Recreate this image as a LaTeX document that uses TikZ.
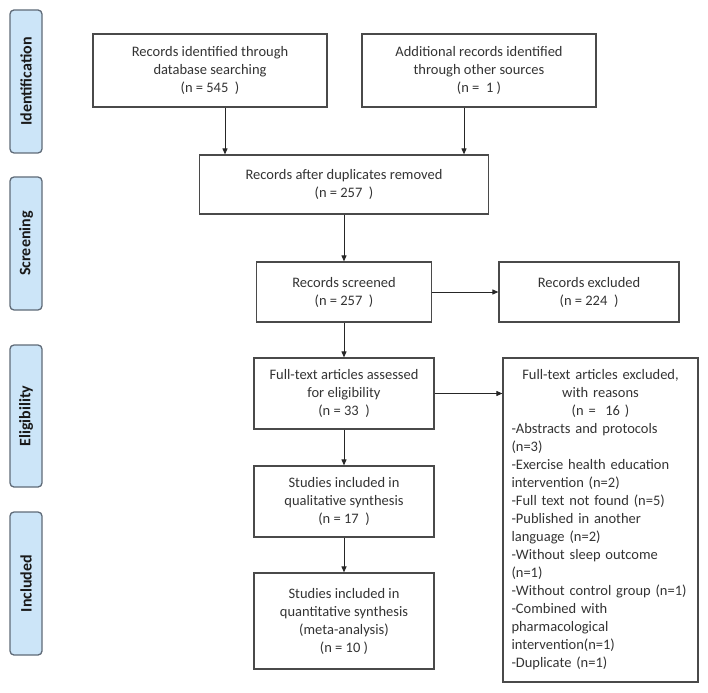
\documentclass[tikz,border=0pt]{standalone}
\usepackage{fontspec}
\setmainfont{Carlito}
\usetikzlibrary{arrows.meta,calc}
\definecolor{txt}{HTML}{333333}
\definecolor{lblfill}{HTML}{CCE5F8}
\definecolor{lbldraw}{HTML}{5F6B78}
\definecolor{boxdraw}{HTML}{4A4A4A}
\begin{document}
\begin{tikzpicture}[x=1pt,y=-1pt,
  phase/.style={draw=lbldraw,fill=lblfill,rounded corners=4pt,line width=1.3pt,
    minimum height=32pt,rotate=90,font=\fontsize{16}{19}\selectfont\bfseries,
    text=black!90,inner sep=0pt},
  box/.style={draw=boxdraw,line width=1.2pt,align=center,
    font=\fontsize{14.5}{18}\selectfont,text=txt,inner sep=0pt},
  arr/.style={-{Triangle[length=6pt,width=5pt]},line width=1pt,draw=black!85}]
\useasboundingbox (0,0) rectangle (708,692);

% phase labels
\node[phase,minimum width=143pt] (pid) at (26,81.5) {Identification};
\node[phase,minimum width=133pt] (psc) at (26,243.5) {Screening};
\node[phase,minimum width=142pt] (pel) at (26,416) {Eligibility};
\node[phase,minimum width=143pt] (pin) at (26,583.5) {Included};

% boxes
\node[box,minimum width=234pt,minimum height=73pt] (b1) at (210,70.5)
  {Records identified through\\database searching\\(n = 545~~)};
\node[box,minimum width=234pt,minimum height=73pt] (b2) at (479,70.5)
  {Additional records identified\\through other sources\\(n =~~1 )};
\node[box,minimum width=289pt,minimum height=59pt] (b3) at (344,184.5)
  {Records after duplicates removed\\(n = 257~~)};
\node[box,minimum width=175pt,minimum height=60pt] (b4) at (344,292)
  {Records screened\\(n = 257~~)};
\node[box,minimum width=180pt,minimum height=60pt] (b5) at (589,292)
  {Records excluded\\(n = 224~~)};
\node[box,minimum width=180pt,minimum height=71pt] (b6) at (344,393.5)
  {Full-text articles assessed\\for eligibility\\(n = 33~~)};
\node[box,minimum width=180pt,minimum height=71pt] (b7) at (344,501.5)
  {Studies included in\\qualitative synthesis\\(n = 17~~)};
\node[box,minimum width=180pt,minimum height=96pt] (b8) at (344,621)
  {Studies included in\\quantitative synthesis\\(meta-analysis)\\(n = 10 )};
\node[box,text width=178pt,inner xsep=8.5pt,minimum height=324pt,align=left] (b9) at (600.5,520)
  {\centering Full-text articles excluded,\\with reasons\\(n =~~16 )\par
   \raggedright -Abstracts and protocols\\(n=3)\\-Exercise health education\\intervention (n=2)\\-Full text not found (n=5)\\-Published in another\\language (n=2)\\-Without sleep outcome\\(n=1)\\-Without control group (n=1)\\-Combined with\\pharmacological\\intervention(n=1)\\-Duplicate (n=1)};

% connectors
\coordinate (c1) at (225,0);
\coordinate (c2) at (464,0);
\draw[arr] (b1.south -| c1) -- (b3.north -| c1);
\draw[arr] (b2.south -| c2) -- (b3.north -| c2);
\draw[arr] (b3.south) -- (b4.north);
\draw[arr] (b4.east) -- (b5.west);
\draw[arr] (b4.south) -- (b6.north);
\draw[arr] (b6.east) -- (b6.east -| b9.west);
\draw[arr] (b6.south) -- (b7.north);
\draw[arr] (b7.south) -- (b8.north);
\end{tikzpicture}
\end{document}
